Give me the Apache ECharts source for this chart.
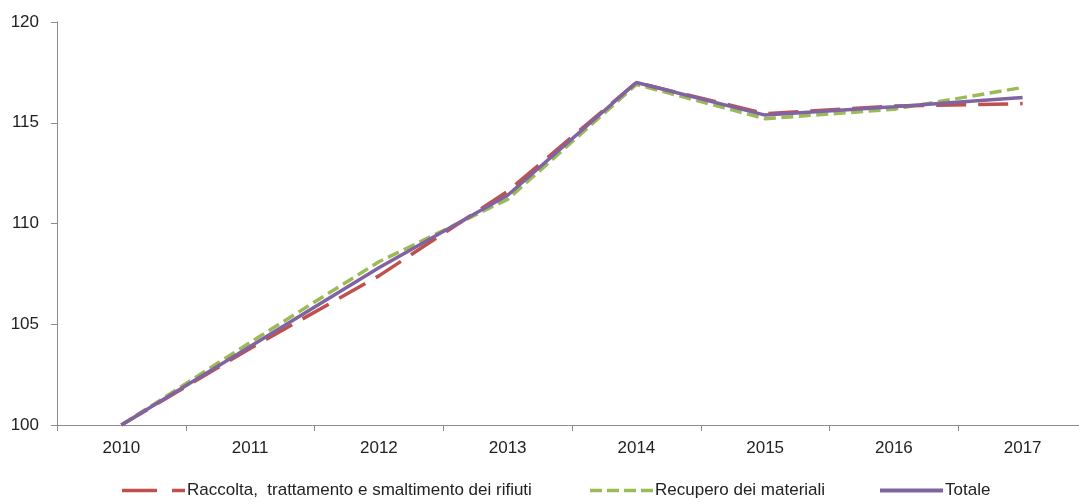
<!DOCTYPE html>
<html><head><meta charset="utf-8">
<script src="https://cdn.jsdelivr.net/npm/echarts@6/dist/echarts.min.js"></script>
<style>html,body{margin:0;padding:0;background:#fff}#c{width:1079px;height:504px}</style>
</head><body><div id="c"></div>
<script>
const years = ['2010','2011','2012','2013','2014','2015','2016','2017'];
const raccolta = [100, 103.8, 107.4, 111.6, 117.0, 115.45, 115.83, 115.95];
const recupero = [100, 104.1, 108.1, 111.2, 116.9, 115.2, 115.67, 116.75];
const totale   = [100, 103.9, 107.8, 111.4, 117.0, 115.38, 115.8, 116.25];
const yTicks = [100, 105, 110, 115, 120];
const names = ['Raccolta,  trattamento e smaltimento dei rifiuti', 'Recupero dei materiali', 'Totale'];

const font = '"Liberation Sans", Arial, sans-serif';
const icons = [
  'path://M0,0H35V3.5H0ZM50,0H63V3.5H50Z',
  'path://M0,0H12V3.5H0ZM17,0H29V3.5H17ZM34,0H46V3.5H34ZM51,0H63V3.5H51Z',
  'path://M0,0H63V4H0Z'
];
const chart = echarts.init(document.getElementById('c'));
function leg(i, left) {
  return {
    data: [{name: names[i], icon: icons[i]}], left: left, top: 482, padding: 0,
    itemWidth: 63, itemHeight: i === 2 ? 4 : 3.5,
    textStyle: {fontFamily: font, fontSize: 17, color: '#222', padding: [0,0,0,-3]},
    selectedMode: false
  };
}
chart.setOption({
  animation: false,
  grid: {left: 57, right: -8, top: 22, bottom: 79, outerBoundsMode: 'none', containLabel: false},
  legend: [leg(0, 122), leg(1, 590), leg(2, 880)],
  xAxis: {
    type: 'category', data: years, boundaryGap: true,
    axisLine: {lineStyle: {color: '#8c8c8c', width: 1}},
    axisTick: {show: true, length: 6, lineStyle: {color: '#8c8c8c'}},
    axisLabel: {fontFamily: font, fontSize: 17, color: '#222', margin: 15}
  },
  yAxis: {
    type: 'value', min: yTicks[0], max: yTicks[yTicks.length-1], interval: 5,
    axisLine: {show: true, lineStyle: {color: '#8c8c8c', width: 1}},
    axisTick: {show: true, length: 6, lineStyle: {color: '#8c8c8c'}},
    splitLine: {show: false},
    axisLabel: {fontFamily: font, fontSize: 17, color: '#222', margin: 18}
  },
  series: [
    {name: names[0], type: 'line', data: raccolta, symbol: 'none', z: 3,
     lineStyle: {color: '#C0504D', width: 3.5, type: [30, 12]}, itemStyle: {color: '#C0504D'}},
    {name: names[1], type: 'line', data: recupero, symbol: 'none', z: 2,
     lineStyle: {color: '#9BBB59', width: 3.5, type: [12, 5.5]}, itemStyle: {color: '#9BBB59'}},
    {name: names[2], type: 'line', data: totale, symbol: 'none', z: 4,
     lineStyle: {color: '#8064A2', width: 3.5, type: 'solid'}, itemStyle: {color: '#8064A2'}}
  ]
});
</script></body></html>
